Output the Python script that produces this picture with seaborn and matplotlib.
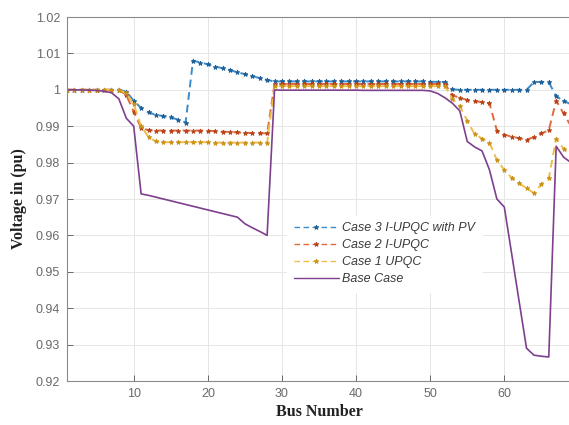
import numpy as np
import pandas as pd
import matplotlib
matplotlib.use("Agg")
import matplotlib.pyplot as plt
import seaborn as sns

bus = list(range(1, 70))

base_case = [
    1.0000, 1.0000, 0.99995, 0.9999, 0.9998, 0.9996, 0.9992, 0.9975, 0.9922, 0.9900,
    0.9714, 0.9710, 0.9705, 0.9700, 0.9695, 0.9690, 0.9685, 0.9680, 0.9675, 0.9670,
    0.9665, 0.9660, 0.9655, 0.9650, 0.9632, 0.9621, 0.9611, 0.9600, 0.99995, 0.9999,
    0.9999, 0.9999, 0.9999, 0.9999, 0.9999, 0.9999, 0.9999, 0.9999, 0.9999, 0.9999,
    0.99985, 0.99985, 0.99985, 0.99985, 0.99985, 0.99985, 0.99985, 0.99985, 0.99985, 0.9997,
    0.9990, 0.9978, 0.9963, 0.9942, 0.9858, 0.9843, 0.9832, 0.9780, 0.9700, 0.9678,
    0.9549, 0.9419, 0.9290, 0.9271, 0.9268, 0.9266, 0.9845, 0.9815, 0.9800,
]

case1_upqc = [
    1.0000, 1.0000, 1.0000, 1.0000, 1.0000, 1.0000, 1.0000, 1.0000, 0.9990, 0.9960,
    0.9900, 0.9870, 0.9858, 0.9856, 0.9856, 0.9856, 0.9856, 0.9856, 0.9856, 0.9856,
    0.9855, 0.9855, 0.9855, 0.9855, 0.9855, 0.9855, 0.9855, 0.9855, 1.0010, 1.0010,
    1.0010, 1.0010, 1.0010, 1.0010, 1.0010, 1.0010, 1.0010, 1.0010, 1.0010, 1.0010,
    1.0010, 1.0010, 1.0010, 1.0010, 1.0010, 1.0010, 1.0010, 1.0010, 1.0010, 1.0010,
    1.0010, 1.0010, 0.9975, 0.9955, 0.9915, 0.9878, 0.9866, 0.9855, 0.9807, 0.9780,
    0.9758, 0.9743, 0.9730, 0.9716, 0.9740, 0.9757, 0.9866, 0.9838, 0.9820,
]

case2_iupqc = [
    1.0000, 1.0000, 1.0000, 1.0000, 1.0000, 1.0000, 1.0000, 1.0000, 0.9985, 0.9940,
    0.9895, 0.9889, 0.9888, 0.9888, 0.9888, 0.9888, 0.9888, 0.9888, 0.9888, 0.9888,
    0.9886, 0.9885, 0.9884, 0.9883, 0.9882, 0.9881, 0.9881, 0.9880, 1.0016, 1.0016,
    1.0016, 1.0016, 1.0016, 1.0016, 1.0016, 1.0016, 1.0016, 1.0016, 1.0016, 1.0016,
    1.0016, 1.0016, 1.0016, 1.0016, 1.0016, 1.0016, 1.0016, 1.0016, 1.0016, 1.0016,
    1.0016, 1.0016, 0.9985, 0.9978, 0.9972, 0.9969, 0.9966, 0.9963, 0.9888, 0.9877,
    0.9871, 0.9867, 0.9863, 0.9870, 0.9880, 0.9889, 0.9970, 0.9935, 0.9900,
]

case3_iupqc_pv = [
    1.0000, 1.0000, 1.0000, 1.0000, 1.0000, 1.0000, 1.0000, 1.0000, 0.9995, 0.9970,
    0.9950, 0.9938, 0.9931, 0.9928, 0.9924, 0.9918, 0.9910, 1.0080, 1.0075, 1.0070,
    1.0064, 1.0059, 1.0054, 1.0048, 1.0043, 1.0038, 1.0032, 1.0027, 1.0023, 1.0023,
    1.0023, 1.0023, 1.0023, 1.0023, 1.0023, 1.0023, 1.0023, 1.0023, 1.0023, 1.0023,
    1.0023, 1.0023, 1.0023, 1.0023, 1.0023, 1.0023, 1.0023, 1.0023, 1.0023, 1.0022,
    1.0022, 1.0021, 1.0001, 1.0000, 1.0000, 1.0000, 1.0000, 1.0000, 1.0000, 1.0000,
    1.0000, 1.0000, 1.0000, 1.0021, 1.0022, 1.0021, 0.9982, 0.9970, 0.9960,
]

labels = ["Case 3 I-UPQC with PV", "Case 2 I-UPQC", "Case 1 UPQC", "Base Case"]
colors = ["#3b8ccc", "#e06a3c", "#f0bd4a", "#7e3f8e"]
marker_colors = ["#1f5f96", "#b8431a", "#c9921a", "#7e3f8e"]

sns.set_theme(style="whitegrid")
plt.rcParams["font.family"] = ["Liberation Sans", "DejaVu Sans"]

fig = plt.figure(figsize=(5.69, 4.25), dpi=100)
ax = fig.add_axes([67 / 569, 1 - 381 / 425, 504 / 569, 364 / 425])
ax.set_facecolor("white")

series = [case3_iupqc_pv, case2_iupqc, case1_upqc, base_case]
for vals, lab, col, mc in zip(series, labels, colors, marker_colors):
    df = pd.DataFrame({"bus": bus, "v": vals})
    if lab == "Base Case":
        sns.lineplot(data=df, x="bus", y="v", ax=ax, color=col, lw=1.2,
                     label=lab, estimator=None, sort=False)
    else:
        sns.lineplot(data=df, x="bus", y="v", ax=ax, color=col, lw=1.4,
                     linestyle=(0, (4, 2.5)), marker="*", markersize=3.5,
                     markeredgewidth=0.6, markeredgecolor=mc,
                     markerfacecolor=mc,
                     label=lab, estimator=None, sort=False)

ax.set_xlim(1, 69)
ax.set_ylim(0.92, 1.02)
ax.set_xticks([10, 20, 30, 40, 50, 60])
yt = [0.92, 0.93, 0.94, 0.95, 0.96, 0.97, 0.98, 0.99, 1.0, 1.01, 1.02]
ax.set_yticks(yt)
ax.set_yticklabels(["0.92", "0.93", "0.94", "0.95", "0.96", "0.97", "0.98",
                    "0.99", "1", "1.01", "1.02"])
ax.tick_params(axis="both", direction="in", length=4, width=0.7,
               colors="#6a6a6a", labelsize=9, pad=5,
               bottom=True, left=True)
ax.grid(True, color="#e6e6e6", lw=0.7)
for s in ["left", "bottom", "top"]:
    ax.spines[s].set_color("#8a8a8a")
    ax.spines[s].set_linewidth(0.8)
ax.spines["right"].set_visible(False)

ax.set_xlabel("Bus Number", family="Liberation Serif", fontweight="bold",
              fontsize=11.5, color="#222222", labelpad=3)
ax.set_ylabel("Voltage in (pu)", family="Liberation Serif", fontweight="bold",
              fontsize=11.5, color="#222222", labelpad=6)

leg = ax.legend(loc="upper left", bbox_to_anchor=(0.425, 0.47), frameon=True,
                fontsize=9, handlelength=3.6, handletextpad=0.3,
                labelspacing=0.4, borderpad=0.5, fancybox=False)
leg.get_frame().set_edgecolor("white")
leg.get_frame().set_facecolor("white")
leg.get_frame().set_alpha(1)
for h in leg.get_lines():
    h.set_linewidth(1.0)
for t in leg.get_texts():
    t.set_fontstyle("italic")
    t.set_color("#3a3a3a")

fig.savefig("out.png", dpi=100)
